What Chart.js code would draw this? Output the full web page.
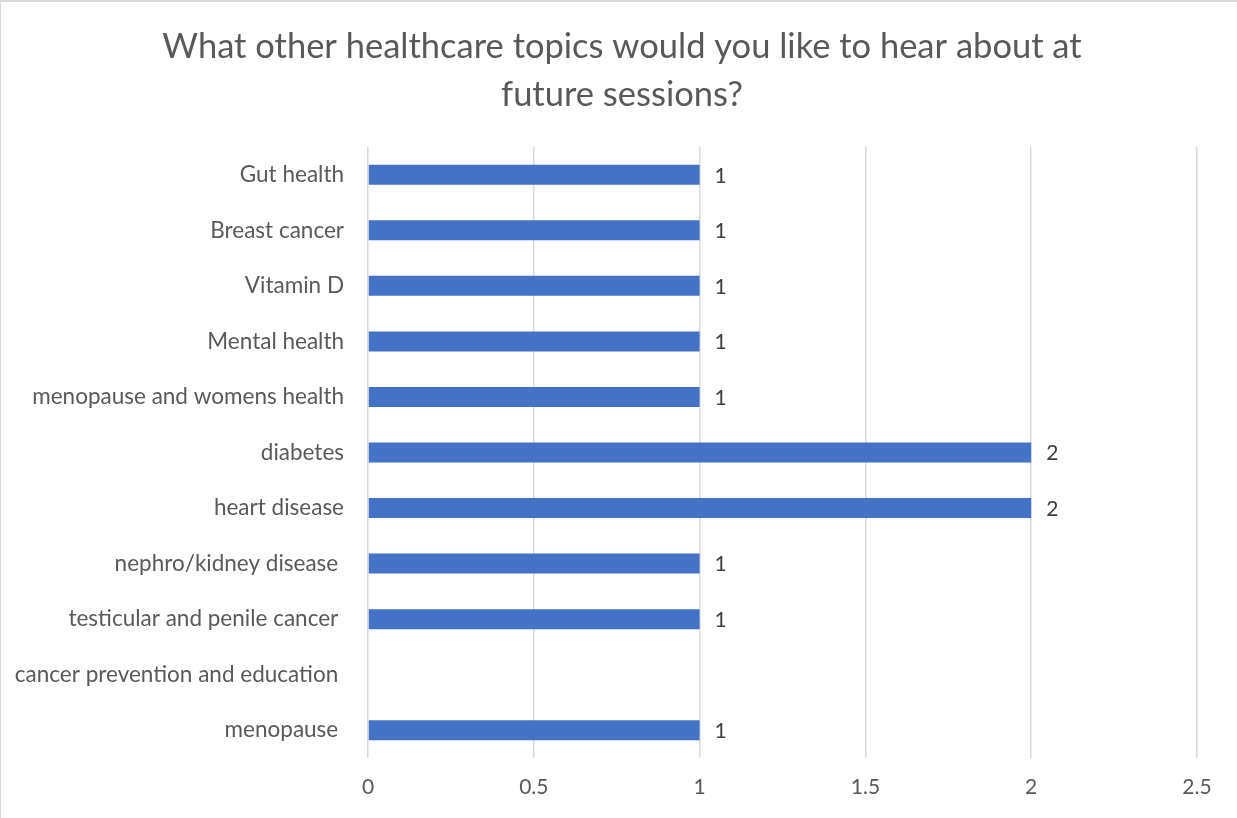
<!DOCTYPE html>
<html lang="en">
<head>
  <meta charset="UTF-8">
  <title>Healthcare topics</title>
  <script src="https://cdn.jsdelivr.net/npm/chart.js"></script>
  <style>
    body {
      margin: 0;
      background: #ffffff;
    }
    .wrap {
      position: relative;
      width: 1237px;
      height: 818px;
    }
    .frame {
      position: absolute;
      left: 0;
      top: 0;
      width: 1237px;
      height: 818px;
      box-sizing: border-box;
      border-top: 2px solid #d9d9d9;
      border-left: 1px solid #d9d9d9;
      pointer-events: none;
    }
    canvas {
      display: block;
    }
  </style>
</head>
<body>
  <div class="wrap">
    <canvas id="chart" width="1237" height="818"></canvas>
    <div class="frame"></div>
  </div>

  <script>
    // data
    const topics = [
      "Gut health",
      "Breast cancer",
      "Vitamin D",
      "Mental health",
      "menopause and womens health",
      "diabetes",
      "heart disease",
      "nephro/kidney disease ",
      "testicular and penile cancer ",
      "cancer prevention and education ",
      "menopause "
    ];
    const counts = [1, 1, 1, 1, 1, 2, 2, 1, 1, null, 1];
    const titleLines = [
      "What other healthcare topics would you like to hear about at",
      "future sessions?"
    ];

    const FONT = "Lato, 'Open Sans', sans-serif";

    // title centred on the whole frame (Chart.js would centre it on the padded box)
    const frameTitle = {
      id: "frameTitle",
      afterDraw(chart) {
        const ctx = chart.ctx;
        ctx.save();
        ctx.font = "34.5px " + FONT;
        ctx.fillStyle = "#595959";
        ctx.textAlign = "center";
        ctx.textBaseline = "middle";
        titleLines.forEach((line, i) => {
          ctx.fillText(line, 622, 47 + i * 48);
        });
        ctx.restore();
      }
    };

    // value labels at the end of each bar
    const barLabels = {
      id: "barLabels",
      afterDatasetsDraw(chart) {
        const ctx = chart.ctx;
        const meta = chart.getDatasetMeta(0);
        ctx.save();
        ctx.font = "21px " + FONT;
        ctx.fillStyle = "#404040";
        ctx.textAlign = "left";
        ctx.textBaseline = "middle";
        meta.data.forEach((bar, i) => {
          const v = counts[i];
          if (v === null || v === undefined) return;
          ctx.fillText(String(v), bar.x + 15, bar.y + 1);
        });
        ctx.restore();
      }
    };

    new Chart(document.getElementById("chart"), {
      type: "bar",
      data: {
        labels: topics,
        datasets: [{
          data: counts,
          backgroundColor: "#4472c4",
          borderWidth: 0,
          categoryPercentage: 1,
          barPercentage: 0.36
        }]
      },
      options: {
        indexAxis: "y",
        responsive: false,
        animation: false,
        devicePixelRatio: 1,
        layout: { padding: { left: 0, right: 40, top: 147, bottom: 0 } },
        plugins: {
          legend: { display: false },
          tooltip: { enabled: false },
          title: { display: false }
        },
        scales: {
          x: {
            min: 0,
            max: 2.5,
            ticks: {
              stepSize: 0.5,
              color: "#595959",
              font: { family: FONT, size: 21 },
              padding: 17,
              callback: v => String(v)
            },
            grid: { color: "#d9d9d9", lineWidth: 1.5, drawTicks: false },
            border: { display: false },
            afterFit(scale) { scale.height = 60; }
          },
          y: {
            ticks: {
              color: "#595959",
              font: { family: FONT, size: 22.5 },
              padding: 24
            },
            grid: { display: false, drawTicks: false },
            border: { display: false },
            afterFit(scale) { scale.width = 368; }
          }
        }
      },
      plugins: [barLabels, frameTitle]
    });
  </script>
</body>
</html>
